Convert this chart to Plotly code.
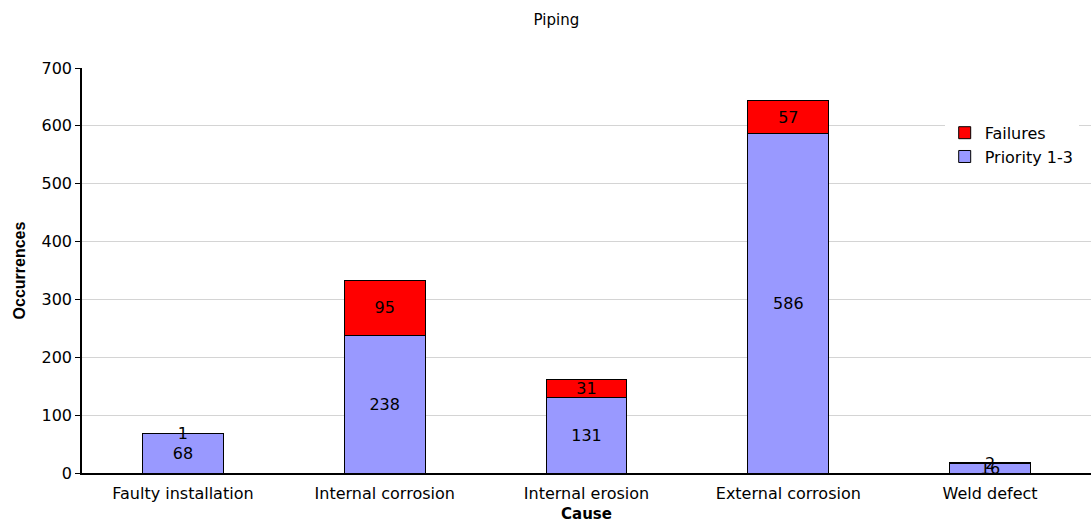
import plotly.graph_objects as go

causes = ["Faulty installation", "Internal corrosion", "Internal erosion", "External corrosion", "Weld defect"]
priority_1_3 = [68, 238, 131, 586, 16]
failures = [1, 95, 31, 57, 2]
y_ticks = [0, 100, 200, 300, 400, 500, 600, 700]

font_family = "DejaVu Sans, Arial, sans-serif"
bold_family = "Liberation Sans, Arial, sans-serif"

bar_text = dict(color="black", size=16, family=font_family)

fig = go.Figure()
fig.add_trace(go.Bar(
    name="Priority 1-3", x=causes, y=priority_1_3,
    marker=dict(color="#9999FF", line=dict(color="black", width=1)),
    text=priority_1_3, textposition="inside", insidetextanchor="middle",
    textangle=0, textfont=bar_text,
))
fig.add_trace(go.Bar(
    name="Failures", x=causes, y=failures,
    marker=dict(color="#FF0000", line=dict(color="black", width=1)),
    text=failures, textposition="inside", insidetextanchor="middle",
    textangle=0, textfont=bar_text,
))

fig.update_layout(
    barmode="stack",
    bargap=0.6,
    width=1091, height=523,
    margin=dict(l=82, r=0, t=68, b=50),
    paper_bgcolor="white", plot_bgcolor="white",
    font=dict(family=font_family, color="black", size=16),
    uniformtext=dict(minsize=16, mode="show"),
    title=dict(text="Piping", x=0.51, xanchor="center", y=0.963, yanchor="middle",
               font=dict(size=15, color="black")),
    legend=dict(x=0.855, y=0.882, xanchor="left", yanchor="top",
                bgcolor="white", borderwidth=0, font=dict(size=16),
                itemwidth=30, tracegroupgap=0),
    xaxis=dict(
        showline=True, linecolor="black", linewidth=1.5,
        ticks="", tickfont=dict(size=16), ticklabelstandoff=5,
        automargin=False,
        title=dict(text="<b>Cause</b>", font=dict(size=15), standoff=12),
    ),
    yaxis=dict(
        range=[0, 700], tickvals=y_ticks,
        showline=True, linecolor="black", linewidth=1.5,
        ticks="outside", ticklen=5, tickcolor="black",
        showgrid=True, gridcolor="#d4d4d4", gridwidth=1,
        tickfont=dict(size=16),
        title=dict(text="<b>Occurrences</b>", font=dict(size=16, family=bold_family), standoff=12),
        zeroline=False,
    ),
)

fig.write_html("out.html")
